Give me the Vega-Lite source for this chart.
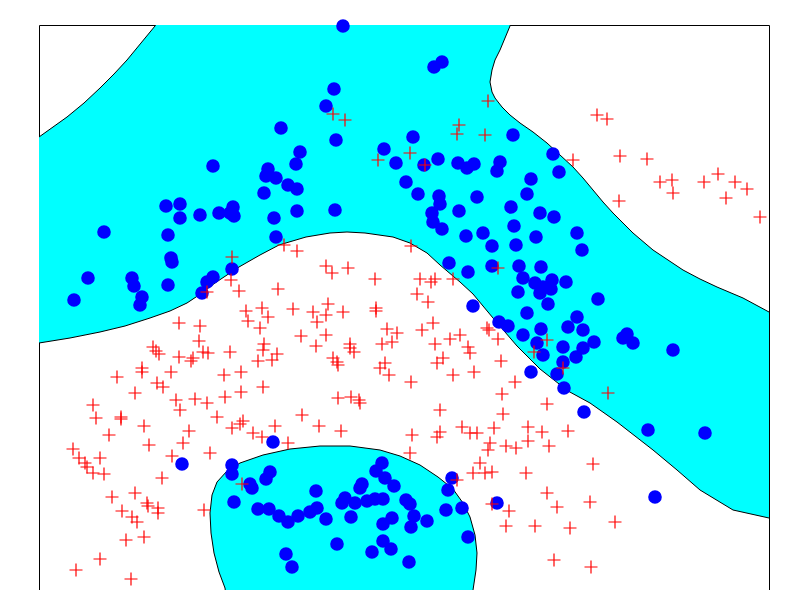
{
  "$schema": "https://vega.github.io/schema/vega-lite/v6.json",
  "width": 730,
  "height": 565,
  "autosize": {"type": "none"},
  "padding": {"left": 39, "top": 25, "right": 36, "bottom": 0},
  "background": "white",
  "config": {
    "view": {"stroke": null},
    "axis": {"labels": false, "ticks": false, "grid": false, "title": null, "domainColor": "#000000", "domainWidth": 1}
  },
  "datasets": {
    "regions": [
      {"r": "band", "i": 0, "x": -6, "y": 453}, {"r": "band", "i": 1, "x": 0, "y": 453}, {"r": "band", "i": 2, "x": 14, "y": 463}, {"r": "band", "i": 3, "x": 28, "y": 473}, {"r": "band", "i": 4, "x": 45, "y": 487}, {"r": "band", "i": 5, "x": 61, "y": 502}, {"r": "band", "i": 6, "x": 75, "y": 516}, {"r": "band", "i": 7, "x": 88, "y": 530}, {"r": "band", "i": 8, "x": 102, "y": 547}, {"r": "band", "i": 9, "x": 116, "y": 564}, {"r": "band", "i": 10, "x": 119, "y": 571},
      {"r": "band", "i": 11, "x": 473, "y": 571}, {"r": "band", "i": 12, "x": 471, "y": 564}, {"r": "band", "i": 13, "x": 466, "y": 552}, {"r": "band", "i": 14, "x": 461, "y": 540}, {"r": "band", "i": 15, "x": 456, "y": 530}, {"r": "band", "i": 16, "x": 453, "y": 520}, {"r": "band", "i": 17, "x": 451, "y": 508}, {"r": "band", "i": 18, "x": 453, "y": 498}, {"r": "band", "i": 19, "x": 456, "y": 492}, {"r": "band", "i": 20, "x": 463, "y": 483}, {"r": "band", "i": 21, "x": 471, "y": 475}, {"r": "band", "i": 22, "x": 481, "y": 467}, {"r": "band", "i": 23, "x": 494, "y": 458}, {"r": "band", "i": 24, "x": 508, "y": 447},
      {"r": "band", "i": 25, "x": 521, "y": 435}, {"r": "band", "i": 26, "x": 534, "y": 423}, {"r": "band", "i": 27, "x": 544, "y": 412}, {"r": "band", "i": 28, "x": 554, "y": 400}, {"r": "band", "i": 29, "x": 564, "y": 388}, {"r": "band", "i": 30, "x": 574, "y": 377}, {"r": "band", "i": 31, "x": 584, "y": 367}, {"r": "band", "i": 32, "x": 594, "y": 357}, {"r": "band", "i": 33, "x": 614, "y": 340}, {"r": "band", "i": 34, "x": 629, "y": 330}, {"r": "band", "i": 35, "x": 644, "y": 320}, {"r": "band", "i": 36, "x": 661, "y": 311}, {"r": "band", "i": 37, "x": 678, "y": 303}, {"r": "band", "i": 38, "x": 704, "y": 292}, {"r": "band", "i": 39, "x": 730, "y": 278}, {"r": "band", "i": 40, "x": 736, "y": 275},
      {"r": "band", "i": 41, "x": 736, "y": 70}, {"r": "band", "i": 42, "x": 730, "y": 72}, {"r": "band", "i": 43, "x": 694, "y": 80}, {"r": "band", "i": 44, "x": 661, "y": 100}, {"r": "band", "i": 45, "x": 638, "y": 120}, {"r": "band", "i": 46, "x": 614, "y": 140}, {"r": "band", "i": 47, "x": 578, "y": 168}, {"r": "band", "i": 48, "x": 551, "y": 187}, {"r": "band", "i": 49, "x": 529, "y": 199}, {"r": "band", "i": 50, "x": 501, "y": 221}, {"r": "band", "i": 51, "x": 478, "y": 244}, {"r": "band", "i": 52, "x": 466, "y": 258}, {"r": "band", "i": 53, "x": 454, "y": 272}, {"r": "band", "i": 54, "x": 434, "y": 296}, {"r": "band", "i": 55, "x": 421, "y": 308}, {"r": "band", "i": 56, "x": 401, "y": 325}, {"r": "band", "i": 57, "x": 388, "y": 337}, {"r": "band", "i": 58, "x": 371, "y": 347}, {"r": "band", "i": 59, "x": 354, "y": 353}, {"r": "band", "i": 60, "x": 326, "y": 357}, {"r": "band", "i": 61, "x": 308, "y": 358}, {"r": "band", "i": 62, "x": 291, "y": 357}, {"r": "band", "i": 63, "x": 267, "y": 353}, {"r": "band", "i": 64, "x": 240, "y": 345}, {"r": "band", "i": 65, "x": 221, "y": 335}, {"r": "band", "i": 66, "x": 200, "y": 323}, {"r": "band", "i": 67, "x": 176, "y": 307}, {"r": "band", "i": 68, "x": 157, "y": 293}, {"r": "band", "i": 69, "x": 148, "y": 287}, {"r": "band", "i": 70, "x": 131, "y": 279}, {"r": "band", "i": 71, "x": 111, "y": 272}, {"r": "band", "i": 72, "x": 86, "y": 264}, {"r": "band", "i": 73, "x": 61, "y": 258}, {"r": "band", "i": 74, "x": 31, "y": 252}, {"r": "band", "i": 75, "x": 0, "y": 247}, {"r": "band", "i": 76, "x": -6, "y": 246},
      {"r": "blob", "i": 0, "x": 187, "y": -6}, {"r": "blob", "i": 1, "x": 186, "y": 2}, {"r": "blob", "i": 2, "x": 180, "y": 18}, {"r": "blob", "i": 3, "x": 175, "y": 37}, {"r": "blob", "i": 4, "x": 172, "y": 57}, {"r": "blob", "i": 5, "x": 171, "y": 77}, {"r": "blob", "i": 6, "x": 173, "y": 95}, {"r": "blob", "i": 7, "x": 178, "y": 108}, {"r": "blob", "i": 8, "x": 188, "y": 119}, {"r": "blob", "i": 9, "x": 201, "y": 127}, {"r": "blob", "i": 10, "x": 224, "y": 135}, {"r": "blob", "i": 11, "x": 251, "y": 141}, {"r": "blob", "i": 12, "x": 281, "y": 144}, {"r": "blob", "i": 13, "x": 311, "y": 144}, {"r": "blob", "i": 14, "x": 341, "y": 140}, {"r": "blob", "i": 15, "x": 361, "y": 134}, {"r": "blob", "i": 16, "x": 381, "y": 125}, {"r": "blob", "i": 17, "x": 399, "y": 113}, {"r": "blob", "i": 18, "x": 414, "y": 101}, {"r": "blob", "i": 19, "x": 424, "y": 87}, {"r": "blob", "i": 20, "x": 431, "y": 73}, {"r": "blob", "i": 21, "x": 436, "y": 55}, {"r": "blob", "i": 22, "x": 438, "y": 37}, {"r": "blob", "i": 23, "x": 437, "y": 20}, {"r": "blob", "i": 24, "x": 434, "y": 0}, {"r": "blob", "i": 25, "x": 433, "y": -6}
    ],
    "circles": [
      {"x":304,"y":564},{"x":295,"y":501},{"x":287,"y":484},{"x":242,"y":462},{"x":297,"y":450},{"x":261,"y":438},{"x":257,"y":426},{"x":174,"y":424},{"x":229,"y":421},{"x":227,"y":414},{"x":237,"y":412},{"x":249,"y":405},{"x":258,"y":401},{"x":225,"y":397},{"x":127,"y":384},{"x":141,"y":386},{"x":141,"y":372},{"x":161,"y":375},{"x":180,"y":377},{"x":194,"y":383},{"x":195,"y":374},{"x":191,"y":377},{"x":258,"y":379},{"x":296,"y":380},{"x":235,"y":372},{"x":65,"y":358},{"x":129,"y":355},{"x":237,"y":353},{"x":132,"y":332},{"x":133,"y":328},{"x":193,"y":321},{"x":49,"y":312},{"x":93,"y":312},{"x":95,"y":304},{"x":129,"y":305},{"x":174,"y":313},{"x":168,"y":308},{"x":163,"y":297},{"x":103,"y":293},{"x":101,"y":285},{"x":35,"y":290},
      {"x":403,"y":528},{"x":395,"y":523},{"x":374,"y":453},{"x":345,"y":441},{"x":357,"y":427},{"x":385,"y":425},{"x":399,"y":431},{"x":419,"y":427},{"x":428,"y":422},{"x":435,"y":426},{"x":461,"y":428},{"x":458,"y":419},{"x":474,"y":455},{"x":514,"y":436},{"x":520,"y":418},{"x":367,"y":408},{"x":379,"y":396},{"x":400,"y":394},{"x":401,"y":386},{"x":393,"y":377},{"x":394,"y":368},{"x":403,"y":361},{"x":420,"y":379},{"x":438,"y":393},{"x":492,"y":411},{"x":488,"y":396},{"x":472,"y":383},{"x":501,"y":377},{"x":515,"y":373},{"x":475,"y":364},{"x":444,"y":357},{"x":427,"y":354},{"x":453,"y":344},{"x":477,"y":345},{"x":497,"y":353},{"x":538,"y":357},{"x":543,"y":340},{"x":410,"y":327},{"x":429,"y":318},{"x":453,"y":324},{"x":480,"y":324},{"x":502,"y":323},
      {"x":484,"y":312},{"x":479,"y":298},{"x":496,"y":307},{"x":504,"y":303},{"x":513,"y":310},{"x":512,"y":301},{"x":501,"y":297},{"x":509,"y":286},{"x":527,"y":308},{"x":559,"y":291},{"x":434,"y":284},{"x":488,"y":277},{"x":460,"y":268},{"x":469,"y":264},{"x":502,"y":261},{"x":484,"y":255},{"x":529,"y":263},{"x":538,"y":273},{"x":544,"y":260},{"x":498,"y":247},{"x":504,"y":235},{"x":524,"y":243},{"x":544,"y":242},{"x":555,"y":248},{"x":537,"y":233},{"x":524,"y":228},{"x":584,"y":252},{"x":588,"y":256},{"x":594,"y":247},{"x":634,"y":240},{"x":492,"y":218},{"x":518,"y":216},{"x":525,"y":202},{"x":545,"y":178},{"x":609,"y":160},{"x":666,"y":157},{"x":616,"y":93},
      {"x":143,"y":126},{"x":234,"y":148},{"x":193,"y":125},{"x":193,"y":116},{"x":211,"y":106},{"x":213,"y":102},{"x":231,"y":118},{"x":227,"y":111},{"x":195,"y":88},{"x":219,"y":81},{"x":230,"y":81},{"x":240,"y":74},{"x":249,"y":68},{"x":259,"y":74},{"x":271,"y":78},{"x":278,"y":82},{"x":277,"y":99},{"x":287,"y":71},{"x":303,"y":87},{"x":306,"y":92},{"x":316,"y":87},{"x":312,"y":73},{"x":323,"y":106},{"x":321,"y":102},{"x":328,"y":89},{"x":336,"y":91},{"x":344,"y":91},{"x":343,"y":127},{"x":337,"y":119},{"x":346,"y":112},{"x":355,"y":104},{"x":367,"y":90},{"x":371,"y":86},{"x":375,"y":74},{"x":372,"y":63},{"x":388,"y":69},{"x":353,"y":72},{"x":344,"y":66},{"x":344,"y":49},{"x":352,"y":41},{"x":333,"y":38},{"x":298,"y":46},{"x":247,"y":36},{"x":253,"y":23},{"x":370,"y":28},{"x":413,"y":112},{"x":409,"y":100},{"x":407,"y":80},{"x":423,"y":82},{"x":429,"y":53},{"x":458,"y":87}
    ],
    "crosses": [
      {"x":294,"y":476},{"x":306,"y":470},{"x":449,"y":489},{"x":420,"y":465},{"x":418,"y":456},{"x":446,"y":455},{"x":371,"y":437},{"x":339,"y":430},{"x":386,"y":425},{"x":558,"y":475},{"x":568,"y":471},{"x":534,"y":430},{"x":581,"y":434},{"x":608,"y":431},{"x":621,"y":408},{"x":633,"y":410},{"x":634,"y":397},{"x":580,"y":389},{"x":665,"y":408},{"x":679,"y":416},{"x":696,"y":408},{"x":708,"y":401},{"x":687,"y":392},{"x":721,"y":373},{"x":372,"y":344},{"x":459,"y":322},
      {"x":245,"y":345},{"x":258,"y":339},{"x":193,"y":333},{"x":287,"y":324},{"x":293,"y":317},{"x":309,"y":322},{"x":192,"y":310},{"x":200,"y":299},{"x":239,"y":301},{"x":168,"y":298},{"x":207,"y":279},{"x":223,"y":282},{"x":229,"y":273},{"x":254,"y":281},{"x":289,"y":286},{"x":274,"y":278},{"x":287,"y":275},{"x":304,"y":278},{"x":336,"y":311},{"x":381,"y":311},{"x":392,"y":308},{"x":396,"y":311},{"x":414,"y":311},{"x":378,"y":296},{"x":389,"y":288},{"x":209,"y":269},{"x":278,"y":268},{"x":337,"y":282},{"x":337,"y":279},{"x":140,"y":267},{"x":161,"y":264},{"x":221,"y":262},{"x":394,"y":267},{"x":383,"y":260},{"x":348,"y":261},{"x":358,"y":257},{"x":262,"y":254},{"x":287,"y":255},{"x":160,"y":249},{"x":225,"y":246},{"x":224,"y":240},{"x":277,"y":244},{"x":311,"y":246},{"x":311,"y":242},{"x":315,"y":238},{"x":343,"y":246},{"x":353,"y":248},{"x":396,"y":246},
      {"x":114,"y":243},{"x":117,"y":239},{"x":120,"y":236},{"x":140,"y":233},{"x":154,"y":232},{"x":152,"y":229},{"x":164,"y":238},{"x":169,"y":237},{"x":191,"y":238},{"x":219,"y":229},{"x":233,"y":230},{"x":238,"y":236},{"x":294,"y":232},{"x":298,"y":228},{"x":299,"y":225},{"x":404,"y":232},{"x":398,"y":227},{"x":346,"y":227},{"x":341,"y":222},{"x":350,"y":215},{"x":132,"y":218},{"x":185,"y":215},{"x":202,"y":218},{"x":372,"y":208},{"x":118,"y":207},{"x":124,"y":203},{"x":224,"y":203},{"x":202,"y":198},{"x":186,"y":193},{"x":137,"y":190},{"x":156,"y":191},{"x":168,"y":187},{"x":141,"y":180},{"x":299,"y":192},{"x":312,"y":193},{"x":320,"y":190},{"x":321,"y":187},{"x":401,"y":180},{"x":263,"y":175},{"x":178,"y":173},{"x":204,"y":169},{"x":201,"y":166},{"x":193,"y":162},{"x":236,"y":164},{"x":280,"y":164},{"x":150,"y":159},{"x":214,"y":157},{"x":223,"y":153},{"x":302,"y":159},{"x":373,"y":155},{"x":401,"y":158},{"x":398,"y":153},
      {"x":421,"y":255},{"x":411,"y":251},{"x":459,"y":251},{"x":508,"y":250},{"x":429,"y":243},{"x":431,"y":237},{"x":495,"y":238},{"x":462,"y":229},{"x":435,"y":218},{"x":414,"y":215},{"x":524,"y":222},{"x":476,"y":208},{"x":463,"y":196},{"x":569,"y":197},{"x":508,"y":186},{"x":464,"y":176},{"x":448,"y":262},{"x":450,"y":260},
      {"x":78,"y":213},{"x":103,"y":222},{"x":103,"y":218},{"x":96,"y":197},{"x":54,"y":185},{"x":57,"y":172},{"x":82,"y":173},{"x":82,"y":171},{"x":105,"y":164},{"x":70,"y":155},{"x":34,"y":141},{"x":110,"y":145},{"x":144,"y":147},{"x":171,"y":137},{"x":40,"y":132},{"x":46,"y":127},{"x":48,"y":123},{"x":61,"y":132},{"x":54,"y":117},{"x":65,"y":116},{"x":133,"y":134},{"x":123,"y":112},{"x":96,"y":97},{"x":73,"y":93},{"x":108,"y":87},{"x":109,"y":84},{"x":119,"y":82},{"x":119,"y":77},{"x":83,"y":79},{"x":93,"y":73},{"x":98,"y":68},{"x":165,"y":80},{"x":203,"y":106},{"x":87,"y":50},{"x":105,"y":53},{"x":61,"y":31},{"x":37,"y":20},{"x":92,"y":11},
      {"x":249,"y":147},{"x":418,"y":110},{"x":453,"y":86},{"x":371,"y":137},{"x":431,"y":157},{"x":438,"y":157},{"x":451,"y":147},{"x":449,"y":140},{"x":441,"y":127},{"x":434,"y":117},{"x":446,"y":117},{"x":453,"y":118},
      {"x":423,"y":163},{"x":455,"y":162},{"x":489,"y":163},{"x":503,"y":158},{"x":529,"y":159},{"x":467,"y":144},{"x":477,"y":142},{"x":489,"y":149},{"x":510,"y":144},{"x":487,"y":117},{"x":554,"y":126},{"x":508,"y":97},{"x":518,"y":83},{"x":551,"y":88},{"x":470,"y":79},{"x":467,"y":64},{"x":496,"y":64},{"x":531,"y":62},{"x":576,"y":68},{"x":515,"y":30},{"x":552,"y":23}
    ]
  },
  "resolve": {"axis": {"y": "independent"}},
  "layer": [
    {
      "data": {"name": "regions"},
      "mark": {"type": "line", "fill": "#00ffff", "stroke": "#000000", "strokeWidth": 1, "clip": true, "interpolate": "linear"},
      "encoding": {
        "x": {"field": "x", "type": "quantitative", "scale": {"domain": [0, 730], "nice": false, "zero": false}, "axis": {"orient": "top"}},
        "y": {"field": "y", "type": "quantitative", "scale": {"domain": [0, 565], "nice": false, "zero": false}, "axis": {"orient": "left"}},
        "detail": {"field": "r"},
        "order": {"field": "i", "type": "quantitative"}
      }
    },
    {
      "data": {"name": "circles"},
      "mark": {"type": "point", "shape": "circle", "filled": true, "color": "#0000ff", "opacity": 1, "size": 185, "strokeWidth": 0},
      "encoding": {
        "x": {"field": "x", "type": "quantitative"},
        "y": {"field": "y", "type": "quantitative", "axis": {"orient": "right"}}
      }
    },
    {
      "data": {"name": "crosses"},
      "mark": {"type": "point", "shape": "M-1,0H1M0,-1V1", "filled": false, "stroke": "#ff0000", "opacity": 1, "size": 169, "strokeWidth": 1.2},
      "encoding": {
        "x": {"field": "x", "type": "quantitative"},
        "y": {"field": "y", "type": "quantitative", "axis": null}
      }
    }
  ]
}
